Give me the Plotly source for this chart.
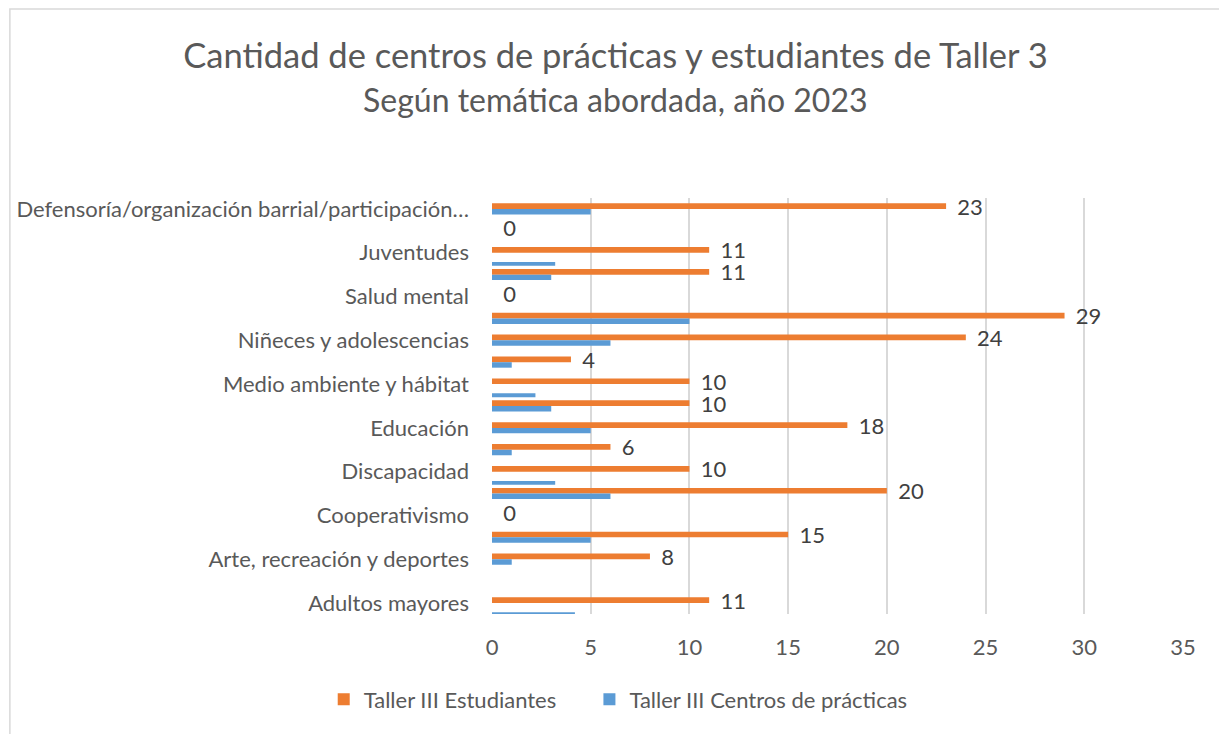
import plotly.graph_objects as go

# Categories bottom -> top (empty strings = unlabeled category slots)
categories = [
    "Adultos mayores", "", "Arte, recreación y deportes", "", "Cooperativismo", "",
    "Discapacidad", "", "Educación", "", "Medio ambiente y hábitat", "",
    "Niñeces y adolescencias", "", "Salud mental", "", "Juventudes", "",
    "Defensoría/organización barrial/participación…",
]
estudiantes = [11, None, 8, 15, 0, 20, 10, 6, 18, 10, 10, 4, 24, 29, 0, 11, 11, 0, 23]
centros = [4.2, None, 1, 5, 0, 6, 3.2, 1, 5, 3, 2.2, 1, 6, 10, 0, 3, 3.2, 0, 5]
thin_blue = [True, False, False, False, False, False, True, False, False, False,
             True, False, False, False, False, False, True, False, False]

series_names = ["Taller III Estudiantes", "Taller III Centros de prácticas"]
title_line1 = "Cantidad de centros de prácticas y estudiantes de Taller 3"
title_line2 = "Según temática abordada, año 2023"
x_ticks = [0, 5, 10, 15, 20, 25, 30, 35]

ORANGE = "#ED7D31"
BLUE = "#5B9BD5"
TXT = "#595959"
FONT = "Lato, Open Sans, sans-serif"

# page body has an 8px margin; work in page pixels and shift
OFF = 8
W, H = 1227 - OFF, 734 - OFF

pos = list(range(len(categories)))
tickvals = [i for i, c in enumerate(categories) if c]
ticktext = [c for c in categories if c]

blue_offset = [-0.6 if t else -0.25 for t in thin_blue]
blue_width = [0.18 if t else 0.25 for t in thin_blue]

fig = go.Figure()
fig.add_trace(go.Bar(
    y=pos, x=estudiantes, orientation="h", name=series_names[0] + "\u00a0" * 5,
    marker=dict(color=ORANGE, line=dict(width=0)),
    offset=0.0, width=0.26,
    text=["\u00a0\u00a0" + str(v) if v is not None else "" for v in estudiantes],
    textposition="outside", cliponaxis=False, constraintext="none",
    textfont=dict(family=FONT, size=22, color="#404040"),
))
fig.add_trace(go.Bar(
    y=pos, x=centros, orientation="h", name=series_names[1],
    marker=dict(color=BLUE, line=dict(width=0)),
    offset=blue_offset, width=blue_width,
))

plot_top = 198 - OFF
plot_bot = 614.5 - OFF
ph = plot_bot - plot_top
pl, pr = 491.5 - OFF, 1183.4 - OFF
pw = pr - pl

def py(p):
    return (plot_bot - (p - OFF)) / ph

def px(p):
    return ((p - OFF) - pl) / pw

fig.update_layout(
    width=W, height=H, autosize=False,
    margin=dict(l=pl, r=W - pr, t=plot_top, b=H - plot_bot, pad=0, autoexpand=False),
    paper_bgcolor="white", plot_bgcolor="white",
    barmode="overlay",
    font=dict(family=FONT, color=TXT, size=22),
    title=dict(text=title_line1, x=(615.5 - OFF) / W, xanchor="center", xref="container",
               y=1 - (55.5 - OFF) / H, yanchor="middle", yref="container",
               font=dict(family=FONT, size=34.5, color=TXT), automargin=False),
    annotations=[dict(text=title_line2, xref="paper", yref="paper",
                      x=px(615), y=py(99.5), xanchor="center", yanchor="middle",
                      showarrow=False, font=dict(family=FONT, size=32, color=TXT))],
    xaxis=dict(range=[0, 35], tickvals=x_ticks, showgrid=True, gridcolor="#D9D9D9",
               gridwidth=1.5, zeroline=False, showline=False, ticks="",
               tickfont=dict(family=FONT, size=22, color=TXT), ticklabelstandoff=18,
               fixedrange=True, automargin=False),
    yaxis=dict(range=[-0.5, 18.5], tickvals=tickvals, ticktext=ticktext,
               showgrid=False, zeroline=False, showline=False, ticks="",
               tickfont=dict(family=FONT, size=22, color=TXT), ticklabelstandoff=22,
               fixedrange=True, automargin=False),
    legend=dict(orientation="h", x=px(323), xanchor="left", y=py(700), yanchor="middle",
                font=dict(family=FONT, size=22, color=TXT), itemwidth=30,
                traceorder="normal", bgcolor="rgba(0,0,0,0)"),
    showlegend=True,
    shapes=[dict(type="rect", xref="paper", yref="paper",
                 x0=px(8.75), x1=px(1224), y0=py(745), y1=py(8.75),
                 line=dict(color="#D9D9D9", width=1.5), layer="below")],
)

fig.write_html("out.html")
